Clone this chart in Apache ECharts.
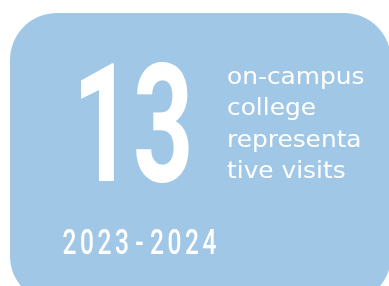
<!DOCTYPE html>
<html>
<head>
<meta charset="utf-8">
<script src="https://cdn.jsdelivr.net/npm/echarts@6/dist/echarts.min.js"></script>
<style>html,body{margin:0;padding:0;background:#fff;}#c{width:389px;height:286px;}</style>
</head>
<body>
<div id="c"></div>
<script>
var statValue = ['13'];
var labelLines = ['on-campus', 'college', 'representa', 'tive visits'];
var periodLabel = ['2023-2024'];

var chart = echarts.init(document.getElementById('c'), null, {renderer: 'canvas'});
var elements = [];
elements.push({
  type: 'rect',
  shape: {x: 10, y: 13, width: 381, height: 290, r: 47},
  style: {fill: '#a1c7e6'}
});
elements.push({
  type: 'text',
  x: 133, y: 140, scaleX: 0.64,
  style: {text: statValue[0], x: 0, y: 0, fill: '#ffffff', font: 'bold 165px Roboto', textAlign: 'center', textVerticalAlign: 'middle'}
});
var baselines = [87, 118, 150, 181];
labelLines.forEach(function (t, i) {
  elements.push({
    type: 'text',
    x: 227, y: baselines[i] - 8.5, scaleX: 1.08,
    style: {text: t, x: 0, y: 0, fill: '#ffffff', font: '23px "DejaVu Sans"', textAlign: 'left', textVerticalAlign: 'middle'}
  });
});
periodLabel[0].split('').forEach(function (ch, i) {
  elements.push({
    type: 'text',
    x: 69.5 + 17.5 * i, y: 245.5, scaleX: 0.7,
    style: {text: ch, x: 0, y: 0, fill: '#ffffff', font: '500 35px Roboto', textAlign: 'center', textVerticalAlign: 'middle'}
  });
});
chart.setOption({
  backgroundColor: '#ffffff',
  animation: false,
  graphic: {elements: elements}
});
</script>
</body>
</html>
